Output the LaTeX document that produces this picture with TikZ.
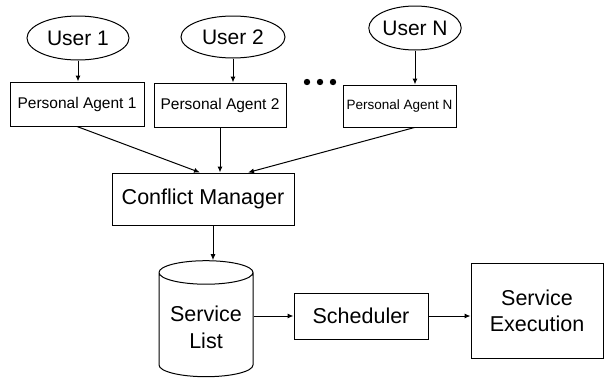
\documentclass[tikz,border=0pt]{standalone}
\usepackage{fontspec}
\setmainfont{Liberation Sans}
\usetikzlibrary{shapes.geometric,arrows.meta}

\tikzset{
  user/.style={draw,ellipse,line width=1pt,inner sep=0pt,font=\fontsize{21}{25}\selectfont},
  agent/.style={draw,rectangle,line width=1pt,minimum height=44pt,font=\fontsize{15.5}{18}\selectfont},
  block/.style={draw,rectangle,line width=1pt,align=center,font=\fontsize{21.5}{26}\selectfont},
  store/.style={draw,cylinder,shape border rotate=90,aspect=.3,line width=1pt,align=center,font=\fontsize{21.5}{27}\selectfont},
  link/.style={line width=1pt,-{Latex[length=6pt,width=5pt]}}
}

\begin{document}
\begin{tikzpicture}[x=1pt,y=-1pt]
\useasboundingbox (0,0) rectangle (612,381);

\node[user,minimum width=102pt,minimum height=44pt] (user1) at (78,38) {User 1};
\node[user,minimum width=104pt,minimum height=42pt] (user2) at (233,37) {User 2};
\node[user,minimum width=84pt,minimum height=44pt] (userN) at (415,28) {User N};

\node[agent,minimum width=134pt] (agent1) at (77,104) {Personal Agent 1};
\node[agent,minimum width=132pt] (agent2) at (220,105) {Personal Agent 2};
\node[agent,minimum width=113pt,minimum height=42pt,font=\fontsize{13.5}{16}\selectfont] (agentN) at (399.5,106) {Personal Agent N};
\foreach \x in {307,320,333}
  \fill (\x,82) circle (3.2);

\node[block,minimum width=182pt,minimum height=52pt] (cm) at (203,199) {Conflict Manager};
\node[store,minimum width=94pt,minimum height=116pt] (list) at (206,327) {Service\\List};
\node[block,minimum width=134pt,minimum height=46pt] (sched) at (361,316) {Scheduler};
\node[block,minimum width=132pt,minimum height=95pt] (exec) at (537,310.5) {Service\\Execution};

\draw[link] (user1.south) -- (user1.south |- agent1.north);
\draw[link] (user2.south) -- (user2.south |- agent2.north);
\draw[link] (userN.south) -- (userN.south |- agentN.north);

\draw[link] (agent1.south) -- ([xshift=-3pt]cm.north);
\draw[link] (agent2.south) -- (agent2.south |- cm.north);
\draw[link] ([xshift=15pt]agentN.south) -- ([xshift=45pt]cm.north);

\draw[link] ([xshift=10pt]cm.south) -- ([xshift=10pt]cm.south |- list.north);
\draw[link] (list.east |- sched.west) -- (sched.west);
\draw[link] (sched.east) -- (sched.east -| exec.west);
\end{tikzpicture}
\end{document}
